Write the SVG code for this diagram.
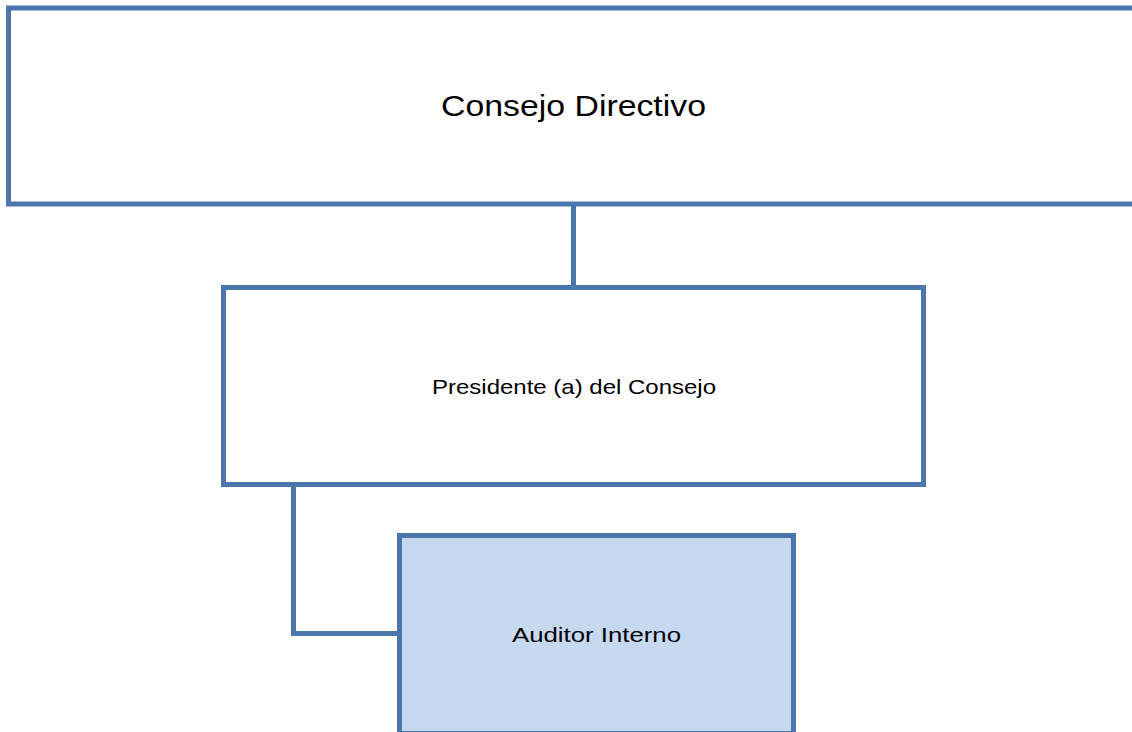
<svg xmlns="http://www.w3.org/2000/svg" width="1132" height="732" viewBox="0 0 1132 732">
<style>
.box{fill:#ffffff;stroke:#4A76AE;stroke-width:5}
.aud{fill:#C6D9F0;stroke:#4A76AE;stroke-width:5}
.conn{fill:none;stroke:#4A76AE;stroke-width:5}
text{font-family:"Liberation Sans",Arial,sans-serif;fill:#000;text-anchor:middle}
</style>
<rect width="1132" height="732" fill="#ffffff"/>
<g id="connectors">
<line class="conn" x1="573.5" y1="204" x2="573.5" y2="288"/>
<polyline class="conn" points="293.5,485 293.5,633.5 400,633.5"/>
</g>
<g id="consejo">
<rect class="box" x="8.5" y="8" width="1140" height="196"/>
<text x="573.5" y="116" font-size="29.5" textLength="265" lengthAdjust="spacingAndGlyphs">Consejo Directivo</text>
</g>
<g id="presidente">
<rect class="box" x="223.5" y="287.5" width="700" height="197"/>
<text x="574" y="394" font-size="21" textLength="284" lengthAdjust="spacingAndGlyphs">Presidente (a) del Consejo</text>
</g>
<g id="auditor">
<rect class="aud" x="399.5" y="535.5" width="394" height="198"/>
<text x="596.5" y="642" font-size="21" textLength="169" lengthAdjust="spacingAndGlyphs">Auditor Interno</text>
</g>
</svg>
